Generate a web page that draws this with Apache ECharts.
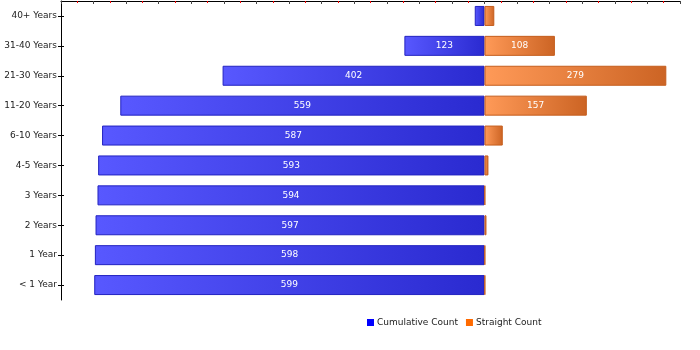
<!DOCTYPE html>
<html>
<head>
<meta charset="UTF-8">
<title>Cumulative vs Straight Count</title>
<script src="https://cdn.jsdelivr.net/npm/echarts/dist/echarts.min.js"></script>
<style>
    body { margin: 0; padding: 0; background: #fff; }
    #chart { width: 700px; height: 350px; }
</style>
</head>
<body>
<div id="chart"></div>
<script>
    var categories = ['40+ Years', '31-40 Years', '21-30 Years', '11-20 Years', '6-10 Years',
                      '4-5 Years', '3 Years', '2 Years', '1 Year', '< 1 Year'];
    var cumulativeCount = [15, 123, 402, 559, 587, 593, 594, 597, 598, 599];
    var straightCount = [15, 108, 279, 157, 28, 6, 1, 3, 1, 1];

    var chart = echarts.init(document.getElementById('chart'));

    var blueFill = new echarts.graphic.LinearGradient(0, 0, 1, 0, [
        { offset: 0, color: '#5858ff' },
        { offset: 1, color: '#2a2ad0' }
    ]);
    var orangeFill = new echarts.graphic.LinearGradient(0, 0, 1, 0, [
        { offset: 0, color: '#ff9a58' },
        { offset: 1, color: '#cc6424' }
    ]);

    function barLabel(minVal) {
        return {
            show: true,
            position: 'inside',
            color: '#fff',
            fontSize: 9,
            fontFamily: 'DejaVu Sans',
            formatter: function (p) {
                var v = Math.abs(p.value);
                return v >= minVal ? v : '';
            }
        };
    }

    chart.setOption({
        animation: false,
        textStyle: { fontFamily: 'DejaVu Sans' },
        grid: { left: 61, right: 20, top: 1, bottom: 50, containLabel: false },
        legend: {
            left: 362,
            top: 313,
            itemWidth: 7,
            itemHeight: 7,
            itemGap: 8,
            icon: 'rect',
            textStyle: { fontSize: 9, color: '#222', padding: [0, 0, 0, -2] },
            data: [
                { name: 'Cumulative Count', itemStyle: { color: '#0000ff', borderWidth: 0 } },
                { name: 'Straight Count', itemStyle: { color: '#ff6a00', borderWidth: 0 } }
            ]
        },
        xAxis: {
            type: 'value',
            position: 'top',
            min: -650,
            max: 300,
            interval: 50,
            axisLine: { show: true, onZero: false, lineStyle: { color: '#000', width: 1 } },
            axisTick: { show: true, inside: true, length: 3, lineStyle: { color: '#444' } },
            minorTick: { show: true, splitNumber: 2, length: 2, lineStyle: { color: '#ff0000' } },
            axisLabel: { show: false },
            splitLine: { show: false }
        },
        yAxis: [{
            type: 'category',
            inverse: true,
            data: categories,
            axisLine: { show: true, onZero: false, lineStyle: { color: '#000' } },
            axisTick: { show: true, alignWithLabel: true, length: 3, lineStyle: { color: '#000' } },
            axisLabel: { fontSize: 9, color: '#222', margin: 4 }
        }, {
            type: 'category',
            inverse: true,
            position: 'left',
            data: categories,
            axisLine: { show: false, onZero: false },
            axisTick: { show: true, inside: true, alignWithLabel: true, length: 3, lineStyle: { color: '#000' } },
            axisLabel: { show: false }
        }],
        series: [{
            name: 'Cumulative Count',
            type: 'bar',
            stack: 'total',
            barWidth: 20,
            data: cumulativeCount.map(function (v) { return -v; }),
            itemStyle: { color: blueFill, borderColor: '#2323c0', borderWidth: 1 },
            label: barLabel(50)
        }, {
            name: 'Straight Count',
            type: 'bar',
            stack: 'total',
            barWidth: 20,
            data: straightCount,
            itemStyle: { color: orangeFill, borderColor: '#c55d1c', borderWidth: 1 },
            label: barLabel(50)
        }]
    });
</script>
</body>
</html>
